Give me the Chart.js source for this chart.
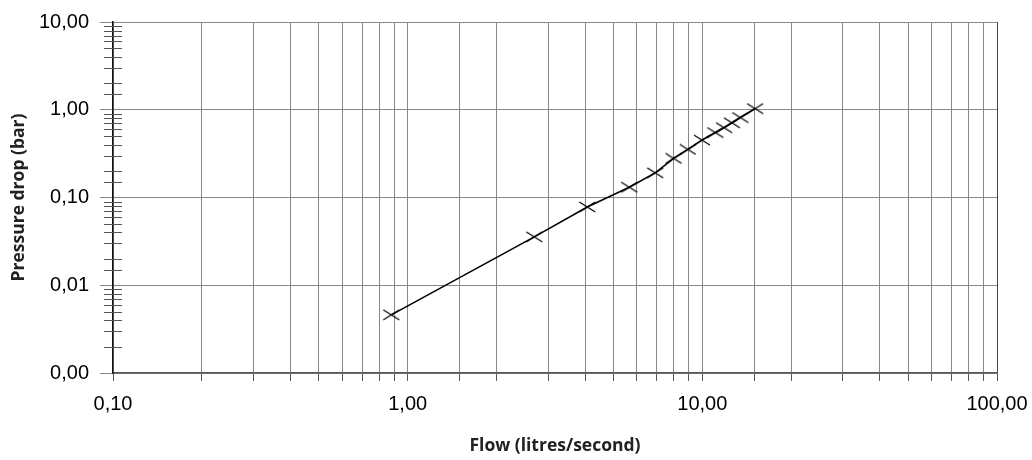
<!DOCTYPE html>
<html>
<head>
<meta charset="utf-8">
<script src="https://cdn.jsdelivr.net/npm/chart.js@4.4.0/dist/chart.umd.min.js"></script>
<style>
  html, body { margin: 0; padding: 0; background: #fff; }
  #wrap { width: 1032px; height: 460px; }
</style>
</head>
<body>
<div id="wrap"><canvas id="flowChart" width="1032" height="460"></canvas></div>
<script>
// flow (l/s) and pressure drop (bar)
const flowValues = [0.88, 2.69, 4.07, 5.65, 6.92, 7.99, 8.93, 9.97, 11.07, 11.85, 12.6, 13.46, 15.1];
const pressureValues = [0.0046, 0.0356, 0.078, 0.131, 0.191, 0.279, 0.353, 0.451, 0.55, 0.625, 0.71, 0.815, 1.03];
const xRange = [0.1, 100];
const yRange = [0.001, 10];

function isDecade(v){
    const l = Math.log10(v);
    return Math.abs(l - Math.round(l)) < 1e-6;
}
function commaLabel(v){
    return isDecade(v) ? v.toFixed(2).replace('.', ',') : '';
}

// flattened x marker
const marker = document.createElement('canvas');
marker.width = 18;
marker.height = 12;
const mctx = marker.getContext('2d');
mctx.strokeStyle = '#000';
mctx.lineWidth = 1.2;
mctx.beginPath();
mctx.moveTo(1, 1); mctx.lineTo(17, 11);
mctx.moveTo(1, 11); mctx.lineTo(17, 1);
mctx.stroke();

// small ticks across the y axis for the minor values
const minorTicks = {
    id: 'minorTicks',
    afterDraw(chart){
        const y = chart.scales.y;
        const ctx = chart.ctx;
        const x0 = chart.chartArea.left;
        ctx.save();
        ctx.strokeStyle = '#555';
        ctx.lineWidth = 1;
        y.ticks.forEach(function(t){
            if (isDecade(t.value)) return;
            const py = Math.round(y.getPixelForValue(t.value)) + 0.5;
            ctx.beginPath();
            ctx.moveTo(x0 - 9, py);
            ctx.lineTo(x0 + 9, py);
            ctx.stroke();
        });
        ctx.restore();
    }
};

const points = flowValues.map(function(f, i){ return {x: f, y: pressureValues[i]}; });

const ctx = document.getElementById('flowChart').getContext('2d');
const flowChart = new Chart(ctx, {
    type: 'line',
    data: {
        datasets: [{
            data: points,
            borderColor: '#000',
            borderWidth: 1.6,
            tension: 0,
            fill: false,
            pointStyle: marker,
            pointRadius: 8,
            pointHoverRadius: 8
        }]
    },
    options: {
        responsive: false,
        animation: false,
        events: [],
        layout: { padding: { left: 0, right: 35, top: 22, bottom: 0 } },
        plugins: {
            legend: { display: false },
            tooltip: { enabled: false }
        },
        scales: {
            x: {
                type: 'logarithmic',
                min: xRange[0],
                max: xRange[1],
                afterFit: function(s){ s.height = 87; s.paddingLeft = 0; s.paddingRight = 0; },
                grid: {
                    color: function(c){ return c.tick && c.tick.value === xRange[1] ? '#444' : '#888'; },
                    tickColor: '#555',
                    tickLength: 8,
                    lineWidth: 1
                },
                border: { color: '#555', width: 1.5 },
                ticks: {
                    autoSkip: false,
                    maxRotation: 0,
                    padding: 11,
                    color: '#000',
                    font: { family: 'Liberation Sans', size: 20 },
                    callback: function(v){ return commaLabel(v); }
                },
                title: {
                    display: true,
                    text: 'Flow (litres/second)',
                    color: '#222',
                    font: { family: 'Open Sans', size: 17.5, weight: 'bold' },
                    padding: { top: 0, bottom: 3 }
                }
            },
            y: {
                type: 'logarithmic',
                min: yRange[0],
                max: yRange[1],
                afterFit: function(s){ s.width = 113; s.paddingTop = 0; s.paddingBottom = 0; },
                grid: {
                    color: function(c){ return c.tick && isDecade(c.tick.value) ? '#888' : 'rgba(0,0,0,0)'; },
                    tickColor: function(c){ return c.tick && isDecade(c.tick.value) ? '#888' : 'rgba(0,0,0,0)'; },
                    tickLength: 13,
                    lineWidth: 1
                },
                border: { color: '#111', width: 1.5 },
                ticks: {
                    autoSkip: false,
                    padding: 11,
                    color: '#000',
                    font: { family: 'Liberation Sans', size: 20 },
                    callback: function(v){ return commaLabel(v); }
                },
                title: {
                    display: true,
                    text: 'Pressure drop (bar)',
                    color: '#222',
                    font: { family: 'Open Sans', size: 17.5, weight: 'bold' },
                    padding: { top: 9, bottom: 0 }
                }
            }
        }
    },
    plugins: [minorTicks]
});
</script>
</body>
</html>
